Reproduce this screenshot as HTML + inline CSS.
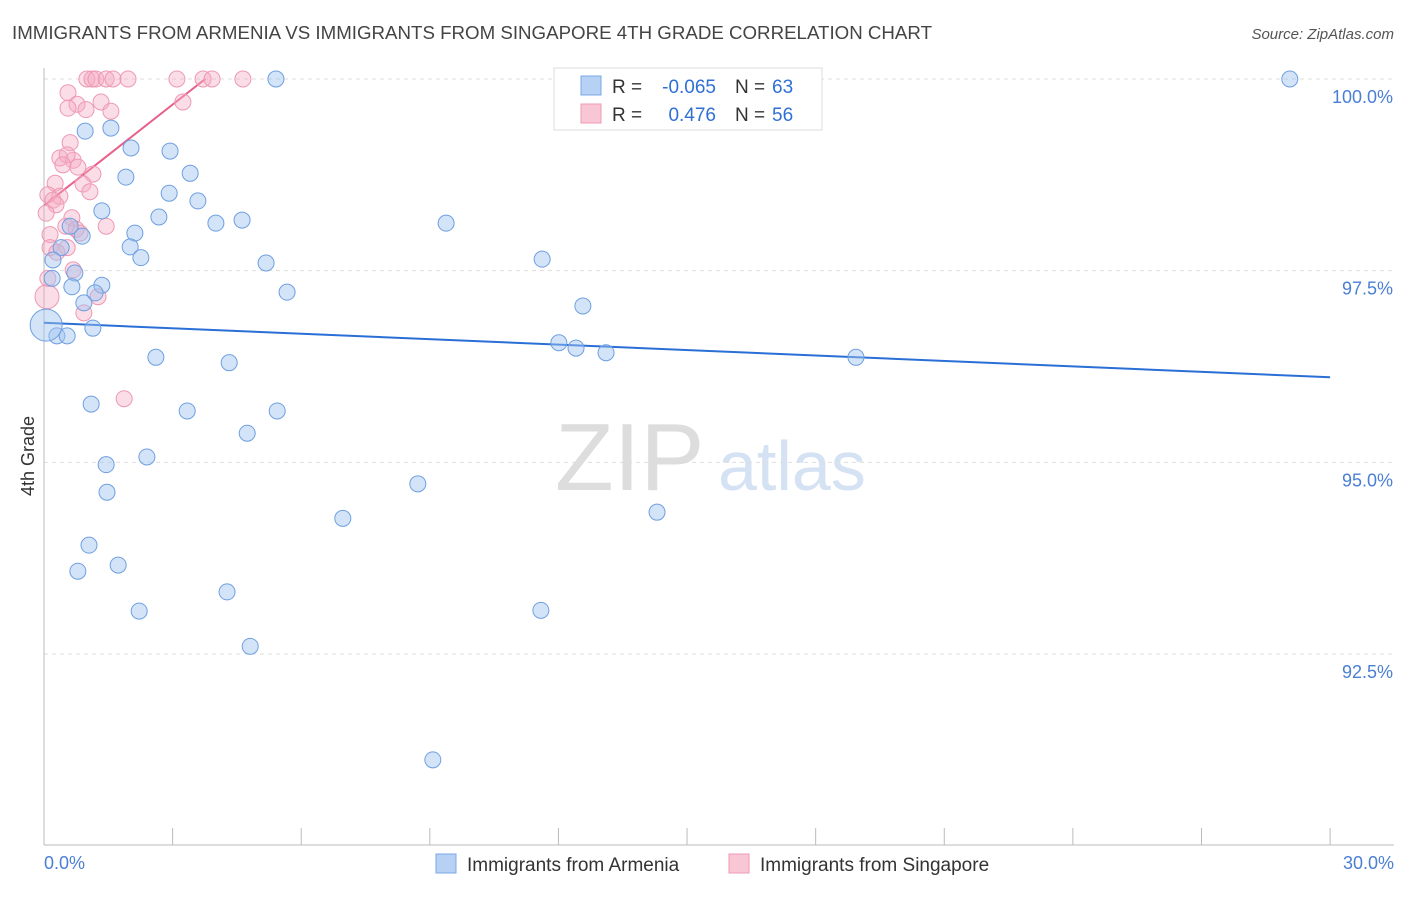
<!DOCTYPE html>
<html><head><meta charset="utf-8">
<style>
body{margin:0;background:#fff;font-family:"Liberation Sans",sans-serif;}
svg text{font-family:"Liberation Sans",sans-serif;}
</style></head>
<body>
<svg id="chart" width="1406" height="892" xmlns="http://www.w3.org/2000/svg">
<text x="12" y="39" font-size="18" fill="#444" textLength="920" lengthAdjust="spacingAndGlyphs">IMMIGRANTS FROM ARMENIA VS IMMIGRANTS FROM SINGAPORE 4TH GRADE CORRELATION CHART</text>
<text x="1394" y="39" font-size="15" fill="#555" text-anchor="end" font-style="italic">Source: ZipAtlas.com</text>
<text x="555" y="490" font-size="96" fill="#ddd" font-family="Liberation Serif">ZIP</text>
<text x="718" y="490" font-size="70" fill="#d5e2f3">atlas</text>
<text x="34" y="456" font-size="18" fill="#333" transform="rotate(-90 34 456)" text-anchor="middle">4th Grade</text>
<g id="grid"></g><g id="axes"></g><g id="trend"></g><g id="pts"></g>
<g>
<rect x="554" y="68" width="268" height="62" fill="#fff" stroke="#ddd"/>
<rect x="581" y="76" width="20" height="19" fill="#b7d1f5" stroke="#7aa7e6"/>
<rect x="581" y="104" width="20" height="19" fill="#f9c6d5" stroke="#ee99b3"/>
<text x="612" y="93" font-size="19" fill="#333">R =</text>
<text x="716" y="93" font-size="19" fill="#2f6fd6" text-anchor="end">-0.065</text>
<text x="735" y="93" font-size="19" fill="#333">N =</text>
<text x="772" y="93" font-size="19" fill="#2f6fd6">63</text>
<text x="612" y="121" font-size="19" fill="#333">R =</text>
<text x="716" y="121" font-size="19" fill="#2f6fd6" text-anchor="end">0.476</text>
<text x="735" y="121" font-size="19" fill="#333">N =</text>
<text x="772" y="121" font-size="19" fill="#2f6fd6">56</text>
</g>
<g>
<rect x="436" y="854" width="20" height="19" fill="#b7d1f5" stroke="#7aa7e6"/>
<text x="467" y="871" font-size="19" fill="#333">Immigrants from Armenia</text>
<rect x="729" y="854" width="20" height="19" fill="#f9c6d5" stroke="#ee99b3"/>
<text x="760" y="871" font-size="19" fill="#333">Immigrants from Singapore</text>
</g>
</svg>
<script>
const blueX=[5.41,29.06,0.96,1.56,2.03,2.94,1.91,3.41,2.92,3.59,1.35,2.68,4.01,4.62,9.38,0.61,2.12,0.89,2.01,0.40,2.26,0.21,5.18,11.62,0.72,0.19,1.35,0.65,1.19,5.67,0.93,12.57,1.14,0.30,0.54,12.01,12.41,13.11,18.94,2.61,4.32,1.10,3.34,5.44,4.74,2.40,1.45,8.72,1.47,14.30,6.97,1.05,1.73,0.79,4.27,2.22,11.59,4.81,9.07,0.05];
const blueY=[100,100,99.32,99.36,99.10,99.06,98.72,98.77,98.51,98.41,98.28,98.20,98.12,98.16,98.12,98.08,97.99,97.95,97.81,97.80,97.67,97.64,97.60,97.65,97.47,97.40,97.31,97.29,97.21,97.22,97.08,97.04,96.75,96.65,96.65,96.56,96.49,96.43,96.37,96.37,96.30,95.76,95.67,95.67,95.38,95.07,94.97,94.72,94.61,94.35,94.27,93.92,93.66,93.58,93.31,93.06,93.07,92.60,91.12,96.79];
const pinkX=[1.0,1.12,1.21,1.45,1.61,1.96,3.10,3.71,3.92,4.64,0.56,3.24,0.77,1.33,0.56,0.98,1.56,0.61,0.37,0.68,0.54,0.44,0.79,1.14,0.26,0.91,1.07,0.09,0.37,0.21,0.28,0.05,0.65,0.51,0.75,1.45,0.14,0.84,0.14,0.54,0.30,0.68,0.09,1.26,0.07,0.93,1.87];
const pinkY=[100,100,100,100,100,100,100,100,100,100,99.82,99.70,99.67,99.70,99.62,99.60,99.58,99.17,98.97,98.94,99.01,98.88,98.85,98.76,98.64,98.63,98.53,98.49,98.47,98.42,98.36,98.25,98.19,98.08,98.04,98.08,97.97,97.99,97.80,97.80,97.74,97.51,97.40,97.16,97.16,96.95,95.83];
const yTicks=[100,97.5,95,92.5];
const yTickLabels=["100.0%","97.5%","95.0%","92.5%"];
const xTicks=[0,3,6,9,12,15,18,21,24,27,30];
const blueTrend=[0,96.82,30,96.11];
const pinkTrend=[0,98.35,3.76,100];
const NS='http://www.w3.org/2000/svg';
const sx=v=>44+v*42.87, sy=v=>79+(100-v)*76.67;
function mk(tag,attrs,parent){const e=document.createElementNS(NS,tag);for(const k in attrs)e.setAttribute(k,attrs[k]);document.getElementById(parent).appendChild(e);return e;}
yTicks.forEach((t,i)=>{
 const l=mk('line',{x1:44,x2:1394,y1:sy(t),y2:sy(t),stroke:'#ddd','stroke-dasharray':'4,4'},'grid');
 
 
 const tx=mk('text',{x:1393,y:sy(t)+24,'font-size':18,fill:'#4a7fd4','text-anchor':'end'},'grid');
 tx.textContent=yTickLabels[i];
 
 
});
const ax=mk('line',{x1:44,x2:1394,y1:845,y2:845,stroke:'#bbb'},'axes');


const ay=mk('line',{x1:44,x2:44,y1:68,y2:845,stroke:'#bbb'},'axes');


xTicks.forEach(t=>{
 const l=mk('line',{x1:sx(t),x2:sx(t),y1:828,y2:845,stroke:'#bbb'},'axes');
 
 
});
const xl0=mk('text',{x:44,y:869,'font-size':18,fill:'#4a7fd4'},'axes');xl0.textContent='0.0%';


const xl1=mk('text',{x:1394,y:869,'font-size':18,fill:'#4a7fd4','text-anchor':'end'},'axes');xl1.textContent='30.0%';


pinkX.forEach((x,i)=>{
 const c=mk('circle',{cx:sx(x),cy:sy(pinkY[i]),r:(i==44?12:8),fill:'rgba(246,170,195,0.4)',stroke:'#ee99b3','stroke-width':1},'pts');
 
 
});
blueX.forEach((x,i)=>{
 const c=mk('circle',{cx:sx(x),cy:sy(blueY[i]),r:(i==59?16:8),fill:'rgba(160,195,240,0.45)',stroke:'#6f9fe0','stroke-width':1},'pts');
 
 
});
const bt=mk('line',{x1:sx(blueTrend[0]),y1:sy(blueTrend[1]),x2:sx(blueTrend[2]),y2:sy(blueTrend[3]),stroke:'#2a6fd6','stroke-width':2},'trend');


const pt=mk('line',{x1:sx(pinkTrend[0]),y1:sy(pinkTrend[1]),x2:sx(pinkTrend[2]),y2:sy(pinkTrend[3]),stroke:'#e8608a','stroke-width':2},'trend');


</script>
</body></html>
